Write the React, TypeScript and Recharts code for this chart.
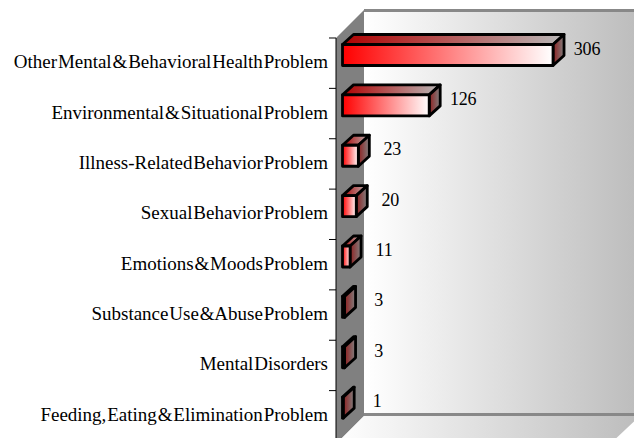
import React from 'react';
import { BarChart, Bar, XAxis, YAxis, LabelList } from 'recharts';

const categories = [
  'Other Mental & Behavioral Health Problem',
  'Environmental & Situational Problem',
  'Illness-Related Behavior Problem',
  'Sexual Behavior Problem',
  'Emotions & Moods Problem',
  'Substance Use & Abuse Problem',
  'Mental Disorders',
  'Feeding, Eating & Elimination Problem',
];
const counts = [306, 126, 23, 20, 11, 3, 3, 1];

const chartData = categories.map((name, i) => ({ name, count: counts[i] }));

const FONT = '"Liberation Serif", "Times New Roman", serif';
const DEPTH_X = 11;
const DEPTH_Y = 10;
const BAND = 50.4;

function Bar3D({ x, y, width, height }: any) {
  const top = y - 8.5;
  const bottom = top + height;
  const right = x + width;
  return (
    <g stroke="#000" strokeWidth={2.8} strokeLinejoin="round">
      <polygon
        points={`${x},${top} ${x + DEPTH_X},${top - DEPTH_Y} ${right + DEPTH_X},${top - DEPTH_Y} ${right},${top}`}
        fill="url(#barTop)"
      />
      <polygon
        points={`${right},${top} ${right + DEPTH_X},${top - DEPTH_Y} ${right + DEPTH_X},${bottom - DEPTH_Y} ${right},${bottom}`}
        fill="url(#barSide)"
      />
      <rect x={x} y={top} width={width} height={height} fill="url(#barFront)" />
    </g>
  );
}

function CategoryTick({ x, y, payload }: any) {
  return (
    <g>
      <line x1={329} x2={336} y1={y - BAND / 2} y2={y - BAND / 2} stroke="#000" strokeWidth={1} />
      <text x={328} y={y + 5} textAnchor="end" fontFamily={FONT} fontSize={19} letterSpacing={-0.02} wordSpacing={-3.8} fill="#000">
        {payload.value}
      </text>
    </g>
  );
}

function ValueLabel({ x, y, width, value }: any) {
  return (
    <text x={x + width + 34} y={y + 1.5} textAnchor="middle" fontFamily={FONT} fontSize={18} letterSpacing={-0.2} fill="#000">
      {value}
    </text>
  );
}

export default function App() {
  return (
    <div style={{ position: 'absolute', left: 0, top: 0, width: 634, height: 438, overflow: 'hidden', background: '#fff' }}>
      <BarChart
        width={634}
        height={444}
        data={chartData}
        layout="vertical"
        margin={{ top: 38, right: 50.7, bottom: 3, left: 0 }}
        barCategoryGap={0}
      >
        <defs>
          <linearGradient id="wall" x1="0" y1="0" x2="1" y2="0">
            <stop offset="0" stopColor="#ffffff" />
            <stop offset="1" stopColor="#bcbcbc" />
          </linearGradient>
          <linearGradient id="barFront" x1="0" y1="0" x2="1" y2="0">
            <stop offset="0" stopColor="#ff0000" />
            <stop offset="1" stopColor="#ffffff" />
          </linearGradient>
          <linearGradient id="barTop" x1="0" y1="0" x2="1" y2="0">
            <stop offset="0" stopColor="#b00000" />
            <stop offset="1" stopColor="#b8b8b8" />
          </linearGradient>
          <linearGradient id="barSide" x1="0" y1="0" x2="1" y2="0">
            <stop offset="0" stopColor="#902020" />
            <stop offset="1" stopColor="#808080" />
          </linearGradient>
        </defs>
        <polygon points="336,38 364,10 364,416 336,444" fill="#808080" />
        <polygon points="364,10 640,10 640,416 364,416" fill="url(#wall)" />
        <polygon points="364,416 640,416 610,444 336,444" fill="url(#wall)" />
        <rect x={364} y={9} width={276} height={3} fill="#888888" />
        <rect x={364} y={413} width={276} height={3} fill="#888888" />
        <XAxis type="number" hide domain={[0, 350]} padding={{ left: 6.5, right: 0 }} />
        <YAxis
          type="category"
          dataKey="name"
          width={336}
          interval={0}
          axisLine={{ stroke: '#000', strokeWidth: 1 }}
          tickLine={false}
          tick={<CategoryTick />}
        />
        <Bar dataKey="count" barSize={21} shape={<Bar3D />} isAnimationActive={false}>
          <LabelList dataKey="count" content={<ValueLabel />} />
        </Bar>
      </BarChart>
    </div>
  );
}
